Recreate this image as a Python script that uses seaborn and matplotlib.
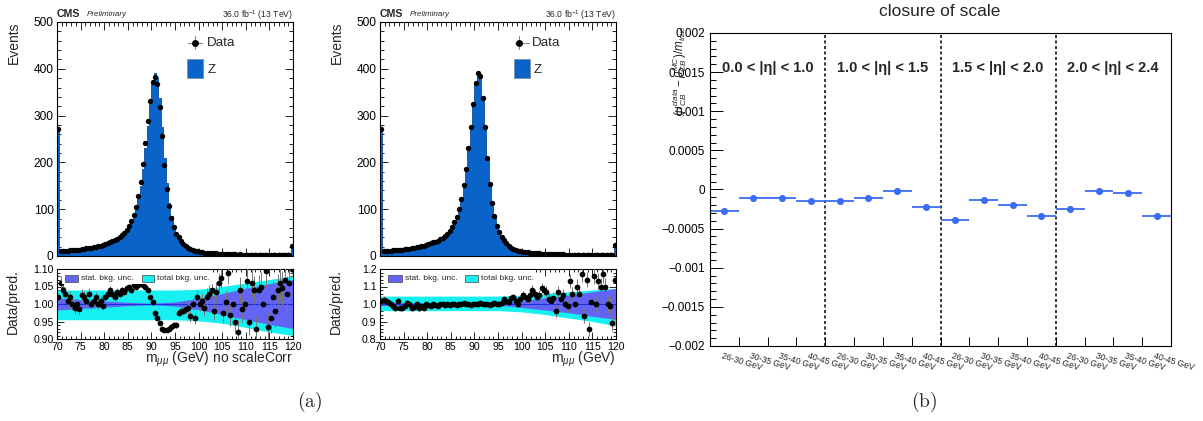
import numpy as np
import pandas as pd
import matplotlib
matplotlib.use("Agg")
import matplotlib.pyplot as plt
from matplotlib.patches import Rectangle
from matplotlib.ticker import (MultipleLocator, FormatStrFormatter, FixedLocator,
                               FixedFormatter, NullFormatter)
import seaborn as sns

# ------------------------------------------------------------------ data
mass_lo, mass_hi, n_mass_bins = 70.0, 120.0, 100

# Z simulation, events per 0.5 GeV bin (first/last bin include under/overflow)
z_mc = [
    265, 10, 10.5, 11, 11.5, 12, 12.5, 13, 13.5, 14,
    14.5, 15, 16, 16.5, 17.5, 18.5, 19.5, 21, 22, 23.5,
    25, 27, 29, 31, 33, 36, 39, 43, 48, 54,
    62, 72, 84, 100, 122, 150, 186, 230, 278, 325,
    370, 392, 382, 338, 276, 210, 155, 114, 86, 65,
    51, 41, 33, 26.5, 21.5, 17.5, 14.8, 12.8, 11.2, 10,
    9, 8.2, 7.5, 6.9, 6.4, 6.0, 5.6, 5.2, 4.9, 4.6,
    4.4, 4.2, 4.0, 3.8, 3.6, 3.45, 3.3, 3.15, 3.0, 2.9,
    2.8, 2.7, 2.6, 2.5, 2.4, 2.35, 2.3, 2.2, 2.15, 2.1,
    2.05, 2.0, 1.95, 1.9, 1.85, 1.8, 1.75, 1.7, 1.65, 20,
]

# data / prediction, without scale correction
ratio_no_corr = [
    1.02, 1.06, 1.04, 1.03, 1.01, 1.02, 1.00, 0.99, 1.00, 0.985,
    1.025, 1.02, 1.01, 1.03, 1.00, 1.01, 1.02, 1.00, 1.01, 0.995,
    1.02, 1.03, 1.04, 1.03, 1.02, 1.035, 1.03, 1.04, 1.035, 1.045,
    1.05, 1.04, 1.055, 1.05, 1.055, 1.06, 1.055, 1.05, 1.04, 1.02,
    1.005, 0.975, 0.96, 0.945, 0.93, 0.925, 0.925, 0.93, 0.935, 0.94,
    0.94, 0.975, 0.98, 0.98, 0.985, 0.99, 0.965, 1.0, 0.96, 1.02,
    1.0, 1.01, 0.99, 1.02, 1.03, 1.04, 0.98, 1.035, 1.06, 1.075,
    0.975, 1.005, 1.09, 0.97, 1.0, 0.95, 0.92, 1.04, 0.985, 1.0,
    1.065, 0.95, 1.06, 1.04, 0.93, 1.04, 1.05, 1.0, 1.095, 0.935,
    0.96, 1.02, 0.98, 1.04, 1.06, 1.045, 1.07, 1.03, 1.06, 1.10,
]

# data / prediction, with scale correction
ratio_corr = [
    1.02, 1.025, 1.02, 1.01, 1.00, 0.99, 0.975, 1.015, 0.98, 0.975,
    0.99, 1.005, 1.0, 0.975, 0.985, 1.0, 0.975, 0.99, 0.98, 1.0,
    0.995, 0.99, 1.0, 0.995, 0.99, 1.0, 1.0, 0.995, 1.0, 0.995,
    1.0, 1.0, 0.995, 1.0, 1.0, 1.005, 1.0, 1.0, 0.995, 1.0,
    1.0, 1.0, 1.005, 1.0, 1.0, 1.0, 0.995, 1.0, 1.005, 1.0,
    1.0, 1.005, 1.03, 1.02, 1.01, 1.035, 1.04, 1.02, 1.0, 1.03,
    1.05, 1.04, 1.03, 1.05, 1.08, 1.06, 1.04, 1.05, 1.09, 1.08,
    1.07, 1.03, 1.02, 1.035, 0.96, 1.07, 1.03, 1.05, 1.0, 0.99,
    1.13, 1.06, 1.0, 1.10, 1.06, 1.17, 0.93, 1.14, 0.86, 1.01,
    1.16, 1.0, 1.13, 1.10, 1.17, 1.10, 1.0, 0.99, 0.89, 1.14,
]

# effective MC-weight scale used for Poisson errors of the data points
events_per_unit = 250.0

# background uncertainty bands
band_mass = [70, 75, 80, 85, 90, 95, 100, 105, 110, 115, 120]
total_hi_no_corr = [1.04, 1.04, 1.04, 1.04, 1.04, 1.04, 1.042, 1.05, 1.06, 1.07, 1.08]
total_lo_no_corr = [0.955, 0.955, 0.955, 0.955, 0.955, 0.955, 0.952, 0.945, 0.933, 0.92, 0.91]
stat_half_no_corr = [0.017, 0.013, 0.009, 0.005, 0.002, 0.006, 0.016, 0.03, 0.045, 0.058, 0.07]
total_hi_corr = [1.045, 1.045, 1.045, 1.045, 1.045, 1.045, 1.05, 1.06, 1.07, 1.08, 1.09]
total_lo_corr = [0.962, 0.962, 0.962, 0.962, 0.962, 0.962, 0.955, 0.94, 0.92, 0.90, 0.875]
stat_half_corr = [0.01, 0.008, 0.006, 0.004, 0.002, 0.006, 0.02, 0.035, 0.05, 0.07, 0.088]

# closure of scale
pt_labels = ["26-30 GeV", "30-35 GeV", "35-40 GeV", "40-45 GeV"]
eta_labels = ["0.0 < |η| < 1.0", "1.0 < |η| < 1.5", "1.5 < |η| < 2.0", "2.0 < |η| < 2.4"]
closure_eta_00_10 = [-0.00028, -0.00011, -0.00011, -0.00015]
closure_eta_10_15 = [-0.000145, -0.000105, -0.000025, -0.00023]
closure_eta_15_20 = [-0.00039, -0.00013, -0.0002, -0.00034]
closure_eta_20_24 = [-0.000255, -0.000025, -0.00004, -0.00034]
b_ytick_values = [0.002, 0.0015, 0.001, 0.0005, 0.0, -0.0005, -0.001, -0.0015, -0.002]
b_ytick_labels = ["0.002", "0.0015", "0.001", "0.0005", "0",
                  "\u22120.0005", "\u22120.001", "\u22120.0015", "\u22120.002"]

# ------------------------------------------------------------------ style
sns.set_theme(style="white")
plt.rcParams['font.family'] = ['Liberation Sans', 'DejaVu Sans']
plt.rcParams['mathtext.fontset'] = 'custom'
plt.rcParams['mathtext.rm'] = 'Liberation Sans'
plt.rcParams['mathtext.it'] = 'Liberation Sans:italic'
plt.rcParams['mathtext.bf'] = 'Liberation Sans:bold'
plt.rcParams['axes.edgecolor'] = 'black'
plt.rcParams['axes.linewidth'] = 0.8

Z_BLUE = "#0a63c8"
Z_EDGE = "#0d4f9c"
CYAN = "#16f0f0"
STAT = "#6464f4"
LINE_BLUE = "#1a2ee0"
B_BLUE = "#3b6cf6"

W, H = 1203, 421
fig = plt.figure(figsize=(W / 100, H / 100), dpi=100)


def px_axes(x0, x1, ytop, ybot):
    return fig.add_axes([x0 / W, 1 - ybot / H, (x1 - x0) / W, (ybot - ytop) / H])


def style_ticks(ax, major_len=5.5, minor_len=3.0, labelsize=8.6):
    ax.tick_params(which='both', direction='in', top=True, right=True,
                   bottom=True, left=True, colors='black', width=0.6,
                   labelsize=labelsize, pad=2.5)
    ax.tick_params(which='major', length=major_len)
    ax.tick_params(which='minor', length=minor_len)


leg_r = {
    57: (0.034, 0.089, 0.102, 0.359, 0.411, 0.422),
    380: (0.035, 0.092, 0.106, 0.360, 0.417, 0.428),
}


def mass_panel(x0, ratio, tot_hi, tot_lo, stat_half, ratio_ylim, r_major, r_minor,
               r_fmt, xlabel, leg):
    ax_m = px_axes(x0, x0 + 236, 22, 256)
    ax_r = px_axes(x0, x0 + 236, 269, 339)

    edges = np.linspace(mass_lo, mass_hi, n_mass_bins + 1)
    centers = 0.5 * (edges[:-1] + edges[1:])
    mc = np.asarray(z_mc, dtype=float)
    r = np.asarray(ratio, dtype=float)
    data = mc * r
    data_err = np.sqrt(data / events_per_unit)
    df = pd.DataFrame({"mass": centers, "mc": mc})

    sns.histplot(data=df, x="mass", weights="mc", bins=list(edges), element="step",
                 fill=True, color=Z_BLUE, alpha=1.0, linewidth=0.6,
                 edgecolor=Z_EDGE, ax=ax_m, zorder=1)
    ax_m.errorbar(centers, data, yerr=data_err, fmt='none', ecolor='#777777',
                  elinewidth=0.6, zorder=2)
    sns.scatterplot(x=centers, y=data, ax=ax_m, color='black', s=15, linewidth=0,
                    zorder=3, legend=False)
    ax_m.set_xlim(mass_lo, mass_hi)
    ax_m.set_ylim(0, 500)
    ax_m.set_xlabel("")
    ax_m.set_ylabel("")
    ax_m.xaxis.set_major_locator(MultipleLocator(5))
    ax_m.xaxis.set_minor_locator(MultipleLocator(1))
    ax_m.yaxis.set_major_locator(MultipleLocator(100))
    ax_m.yaxis.set_minor_locator(MultipleLocator(20))
    style_ticks(ax_m)
    ax_m.tick_params(labelbottom=False)

    # legend (main)
    mx, bx0, bx1, tx = leg
    ax_m.plot([bx0 + 0.004, bx1 - 0.004], [0.91, 0.91], color='#888888', lw=0.8,
              transform=ax_m.transAxes, zorder=5)
    ax_m.plot([mx, mx], [0.885, 0.94], color='#888888', lw=0.8,
              transform=ax_m.transAxes, zorder=5)
    ax_m.plot([mx], [0.91], 'o', color='black', ms=4, transform=ax_m.transAxes,
              zorder=6)
    ax_m.text(tx, 0.91, "Data", transform=ax_m.transAxes, fontsize=9.6,
              ha='left', va='center')
    ax_m.add_patch(Rectangle((bx0, 0.761), bx1 - bx0, 0.081, transform=ax_m.transAxes,
                             facecolor=Z_BLUE, edgecolor='#7a8fa8', lw=0.6, zorder=5))
    ax_m.text(tx + 0.006, 0.795, "Z", transform=ax_m.transAxes, fontsize=9.6,
              ha='left', va='center')

    # ratio panel
    ax_r.fill_between(band_mass, tot_lo, tot_hi, color=CYAN, lw=0, zorder=1)
    sh = np.asarray(stat_half)
    ax_r.fill_between(band_mass, 1 - sh, 1 + sh, color=STAT, lw=0, zorder=2)
    ax_r.axhline(1.0, color=LINE_BLUE, lw=0.8, zorder=2.5)
    ax_r.errorbar(centers, r, yerr=data_err / mc, fmt='none', ecolor='#777777',
                  elinewidth=0.7, zorder=3)
    sns.scatterplot(x=centers, y=r, ax=ax_r, color='black', s=17, linewidth=0,
                    zorder=4, legend=False)
    ax_r.set_xlim(mass_lo, mass_hi)
    ax_r.set_ylim(*ratio_ylim)
    ax_r.set_xlabel("")
    ax_r.set_ylabel("")
    ax_r.xaxis.set_major_locator(MultipleLocator(5))
    ax_r.xaxis.set_minor_locator(MultipleLocator(1))
    ax_r.yaxis.set_major_locator(MultipleLocator(r_major))
    ax_r.yaxis.set_minor_locator(MultipleLocator(r_minor))
    ax_r.yaxis.set_major_formatter(FormatStrFormatter(r_fmt))
    style_ticks(ax_r, major_len=5.0, minor_len=2.5, labelsize=7.6)
    ax_r.tick_params(axis='x', pad=2)

    # ratio legend
    ax_r.add_patch(Rectangle((0.02, 0.78), 0.64, 0.2, transform=ax_r.transAxes,
                             facecolor='white', edgecolor='none', zorder=6))
    s0, s1, stx, t0, t1, ttx = leg_r[x0]
    ax_r.add_patch(Rectangle((s0, 0.81), s1 - s0, 0.104, transform=ax_r.transAxes,
                             facecolor=STAT, edgecolor='#444444', lw=0.5, zorder=7))
    ax_r.text(stx, 0.862, "stat. bkg. unc.", transform=ax_r.transAxes, fontsize=6,
              ha='left', va='center', zorder=8)
    ax_r.add_patch(Rectangle((t0, 0.81), t1 - t0, 0.104, transform=ax_r.transAxes,
                             facecolor=CYAN, edgecolor='#444444', lw=0.5, zorder=7))
    ax_r.text(ttx, 0.862, "total bkg. unc.", transform=ax_r.transAxes, fontsize=6,
              ha='left', va='center', zorder=8)

    # texts
    ax_r.text(1.0, -0.29, xlabel, transform=ax_r.transAxes, fontsize=10,
              ha='right', va='center')
    fig.text((x0 - 43) / W, 1 - 22 / H, "Events", rotation=90, fontsize=10,
             ha='center', va='top')
    fig.text((x0 - 44) / W, 1 - 269 / H, "Data/pred.", rotation=90, fontsize=10,
             ha='center', va='top')
    fig.text(x0 / W, 1 - 14 / H, "CMS", fontsize=7.6, fontweight='bold',
             ha='left', va='center')
    fig.text((x0 + 30) / W, 1 - 15 / H, "Preliminary", fontsize=5.8, style='italic',
             ha='left', va='center')
    fig.text((x0 + 236) / W, 1 - 15 / H, "36.0 fb$^{-1}$ (13 TeV)", fontsize=6.2,
             ha='right', va='center')
    return ax_m, ax_r


mass_panel(57, ratio_no_corr, total_hi_no_corr, total_lo_no_corr, stat_half_no_corr,
           (0.90, 1.10), 0.05, 0.01, '%.2f', r"m$_{\mu\mu}$ (GeV) no scaleCorr",
           (0.585, 0.551, 0.619, 0.634))
mass_panel(380, ratio_corr, total_hi_corr, total_lo_corr, stat_half_corr,
           (0.8, 1.2), 0.1, 0.02, '%.1f', r"m$_{\mu\mu}$ (GeV)",
           (0.589, 0.567, 0.634, 0.645))

# ------------------------------------------------------------------ panel (b)
ax_b = px_axes(710, 1171, 33, 346)
closure_all = closure_eta_00_10 + closure_eta_10_15 + closure_eta_15_20 + closure_eta_20_24
pos = np.arange(len(closure_all)) + 0.5
ax_b.errorbar(pos, closure_all, xerr=0.5, fmt='none', ecolor=B_BLUE,
              elinewidth=1.3, capsize=0, zorder=2)
sns.scatterplot(x=pos, y=closure_all, ax=ax_b, color=B_BLUE, s=26, linewidth=0,
                zorder=3, legend=False)
n_groups = len(eta_labels)
n_pt = len(pt_labels)
for g in range(1, n_groups):
    ax_b.axvline(g * n_pt, color='black', lw=1.1, ls=(0, (2.0, 1.6)), zorder=1)
for g, lab in enumerate(eta_labels):
    ax_b.text(g * n_pt + 0.4, 0.00155, lab, fontsize=10.5, fontweight='bold',
              ha='left', va='center')
ax_b.set_xlim(0, len(closure_all))
ax_b.set_ylim(-0.002, 0.002)
ax_b.xaxis.set_major_locator(FixedLocator(np.arange(1, len(closure_all))))
ax_b.xaxis.set_major_formatter(NullFormatter())
ax_b.yaxis.set_major_locator(FixedLocator(b_ytick_values))
ax_b.yaxis.set_major_formatter(FixedFormatter(b_ytick_labels))
ax_b.yaxis.set_minor_locator(MultipleLocator(0.0001))
ax_b.tick_params(which='both', direction='in', top=False, right=False, bottom=True,
                 left=True, colors='black', width=0.7, labelsize=8.5, pad=3.5)
ax_b.tick_params(axis='y', which='major', length=9.4)
ax_b.tick_params(axis='y', which='minor', length=4.5)
ax_b.tick_params(axis='x', which='major', length=6.5)
trans_b = ax_b.get_xaxis_transform()
for i in range(len(closure_all)):
    ax_b.text(i + 0.44, -0.016, pt_labels[i % n_pt], transform=trans_b, fontsize=6.2,
              rotation=-17, rotation_mode='anchor', ha='left', va='top')
fig.text(940 / W, 1 - 11 / H, "closure of scale", fontsize=12.5, ha='center',
         va='center')
fig.text(680 / W, 1 - 70 / H, r"$(\mu^{data}_{CB}-\mu^{MC}_{CB})/m_{true}$",
         rotation=90, fontsize=8.5, ha='center', va='center')

# captions
fig.text(310 / W, 1 - 402 / H, r"$\mathrm{(a)}$", fontsize=14, ha='center',
         va='center', math_fontfamily='cm')
fig.text(924 / W, 1 - 402 / H, r"$\mathrm{(b)}$", fontsize=14, ha='center',
         va='center', math_fontfamily='cm')

fig.savefig("out.png", dpi=100)
